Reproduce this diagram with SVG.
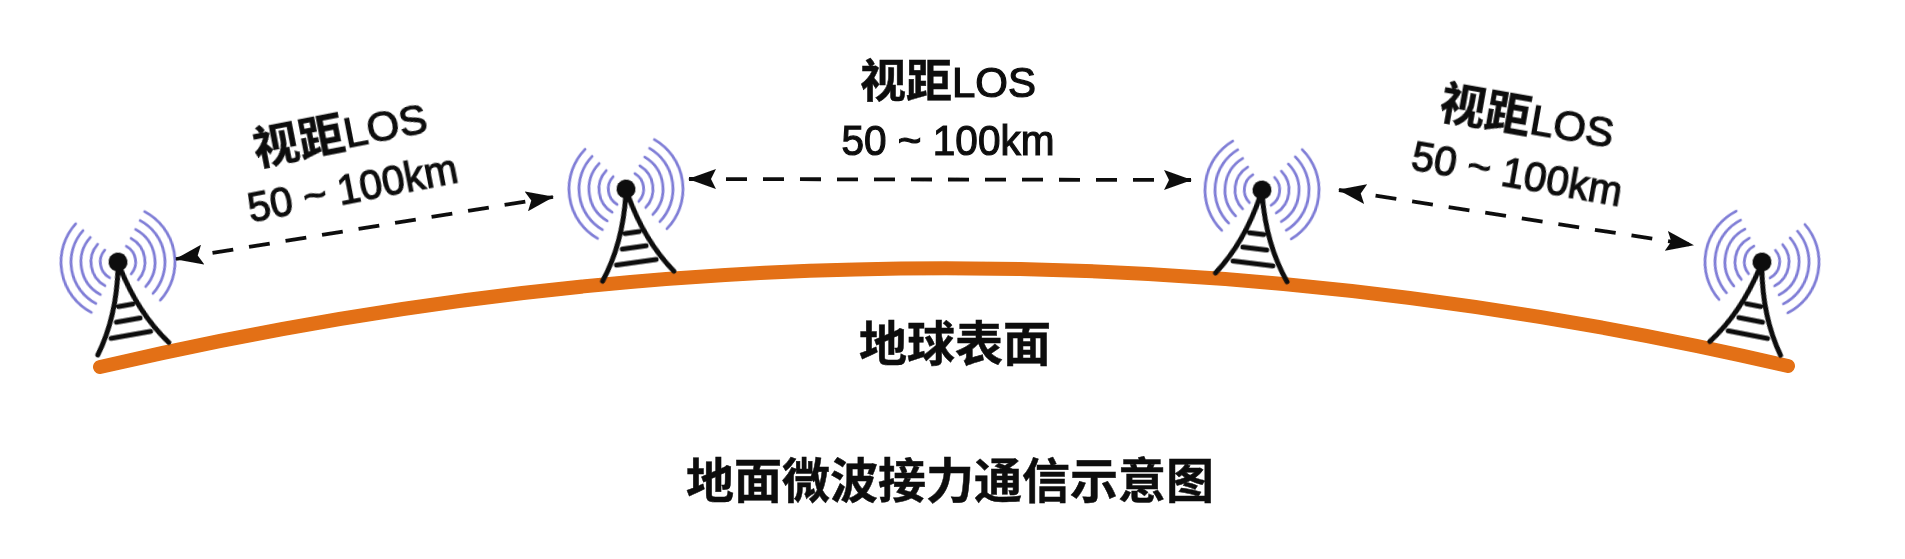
<svg xmlns="http://www.w3.org/2000/svg" width="1905" height="559" viewBox="0 0 1905 559">
<style>
.t{font-family:"Liberation Sans","Noto Sans CJK SC",sans-serif;fill:#111;stroke:#111;stroke-width:1.2;text-anchor:middle}
.cjk{font-family:"Noto Sans CJK SC","Liberation Sans",sans-serif;font-weight:700;stroke-width:.5}
.arc{fill:none;stroke:#7f7dd6;stroke-width:2.8;stroke-linecap:round}
.leg{fill:none;stroke:#111;stroke-width:5;stroke-linecap:round}
.conn{fill:none;stroke:#111;stroke-width:3.8;stroke-dasharray:21 16;marker-start:url(#head);marker-end:url(#head)}
</style>
<defs>
<filter id="soft" x="-5%" y="-5%" width="110%" height="110%"><feGaussianBlur stdDeviation="0.7"/></filter>
<marker id="head" viewBox="0 0 28 20" refX="27" refY="10" markerWidth="28" markerHeight="20" markerUnits="userSpaceOnUse" orient="auto-start-reverse"><path d="M0 0L28 10L0 20L5 10Z" fill="#111"/></marker>
<g id="tower">
<path class="arc" d="M-11 -14A18 18 0 0 0 -11 14M-17 -21A27 27 0 0 0 -17 21M-23 -29A37 37 0 0 0 -23 29M-29 -37A47 47 0 0 0 -29 37M-35 -45A57 57 0 0 0 -35 45"/>
<path class="arc" d="M11 -14A18 18 0 0 1 11 14M17 -21A27 27 0 0 1 17 21M23 -29A37 37 0 0 1 23 29M29 -37A47 47 0 0 1 29 37M35 -45A57 57 0 0 1 35 45"/>
<circle r="9.5" fill="#111"/>
<path class="leg" d="M-1 6Q-11 54 -36 88M1 6Q11 54 36 88M-7 44H7M-12 59H12M-20 74H20"/>
</g>
</defs>
<rect width="1905" height="559" fill="#fff"/>
<g filter="url(#soft)">
<g id="ground"><path d="M100 367Q944 170 1788 366" fill="none" stroke="#e36f12" stroke-width="14" stroke-linecap="round"/></g>
<g id="tower1"><use href="#tower" transform="translate(118 262) rotate(-10)"/></g>
<g id="tower2"><use href="#tower" transform="translate(626 189) rotate(-8)"/></g>
<g id="tower3"><use href="#tower" transform="translate(1262 190) rotate(7)"/></g>
<g id="tower4"><use href="#tower" transform="translate(1762 262) rotate(11)"/></g>
<g id="connectors">
<path class="conn" d="M176 259L553 197"/>
<path class="conn" d="M689 179L1191 180"/>
<path class="conn" d="M1339 190L1693 245"/>
</g>
<g id="label-left" transform="rotate(-11 340 134)">
<text class="t" x="340" y="149" font-size="42"><tspan class="cjk" font-size="46">视距</tspan>LOS</text>
<text class="t" x="342" y="204" font-size="42" textLength="213" lengthAdjust="spacingAndGlyphs">50 ~ 100km</text>
</g>
<g id="label-mid">
<text class="t" x="948" y="97" font-size="42"><tspan class="cjk" font-size="46">视距</tspan>LOS</text>
<text class="t" x="948" y="155" font-size="42" textLength="213" lengthAdjust="spacingAndGlyphs">50 ~ 100km</text>
</g>
<g id="label-right" transform="rotate(10 1527 118)">
<text class="t" x="1527" y="133" font-size="42"><tspan class="cjk" font-size="46">视距</tspan>LOS</text>
<text class="t" x="1527" y="189" font-size="42" textLength="213" lengthAdjust="spacingAndGlyphs">50 ~ 100km</text>
</g>
<g id="label-earth"><text class="t cjk" x="955" y="361" font-size="48">地球表面</text></g>
<g id="title"><text class="t cjk" x="950" y="498" font-size="48">地面微波接力通信示意图</text></g>
</g>
</svg>
